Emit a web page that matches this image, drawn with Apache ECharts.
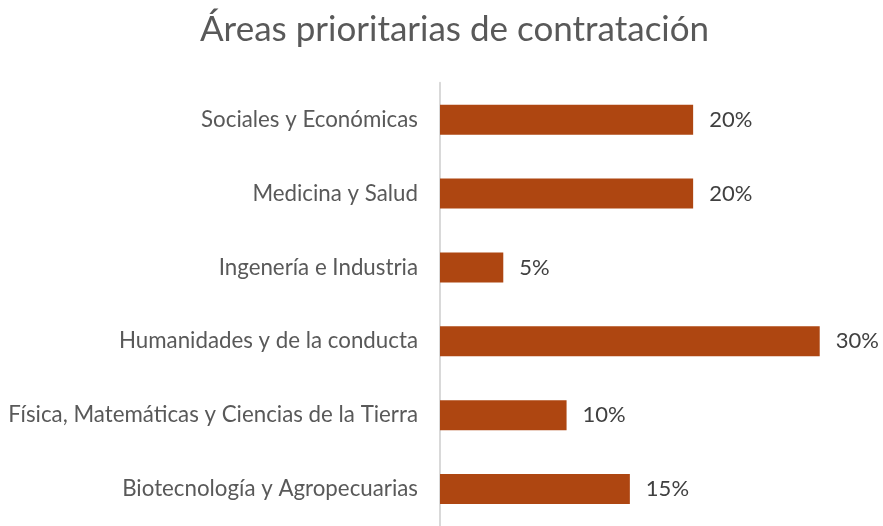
<!DOCTYPE html>
<html>
<head>
<meta charset="utf-8">
<script src="https://cdn.jsdelivr.net/npm/echarts@6/dist/echarts.min.js"></script>
<style>
  html, body { margin: 0; padding: 0; background: #fff; }
  #chart { width: 883px; height: 526px; }
</style>
</head>
<body>
<div id="chart"></div>
<script>
// Priority hiring areas, listed top to bottom
const categories = [
  'Sociales y Económicas',
  'Medicina y Salud',
  'Ingenería e Industria',
  'Humanidades y de la conducta',
  'Física, Matemáticas y Ciencias de la Tierra',
  'Biotecnología y Agropecuarias'
];
const shares = [20, 20, 5, 30, 10, 15];

const FONT = 'Lato, "Open Sans", sans-serif';

const chart = echarts.init(document.getElementById('chart'));
chart.setOption({
  animation: false,
  title: {
    text: 'Áreas prioritarias de contratación',
    left: 195,
    top: 7,
    textStyle: { fontFamily: FONT, fontSize: 35, fontWeight: 'normal', color: '#595959' }
  },
  grid: { left: 440, top: 82.7, width: 443, height: 448, containLabel: false },
  xAxis: {
    type: 'value',
    min: 0,
    max: 35,
    show: false
  },
  yAxis: {
    type: 'category',
    data: categories,
    inverse: true,
    axisLine: { show: true, lineStyle: { color: '#d9d9d9', width: 2 } },
    axisTick: { show: false },
    axisLabel: { fontFamily: FONT, fontSize: 22.3, color: '#595959', margin: 22 }
  },
  series: [{
    type: 'bar',
    data: shares,
    barWidth: 30,
    itemStyle: { color: '#AE4611' },
    label: {
      show: true,
      position: 'right',
      distance: 16,
      formatter: '{c}%',
      fontFamily: FONT,
      fontSize: 22,
      color: '#404040'
    }
  }]
});
</script>
</body>
</html>
